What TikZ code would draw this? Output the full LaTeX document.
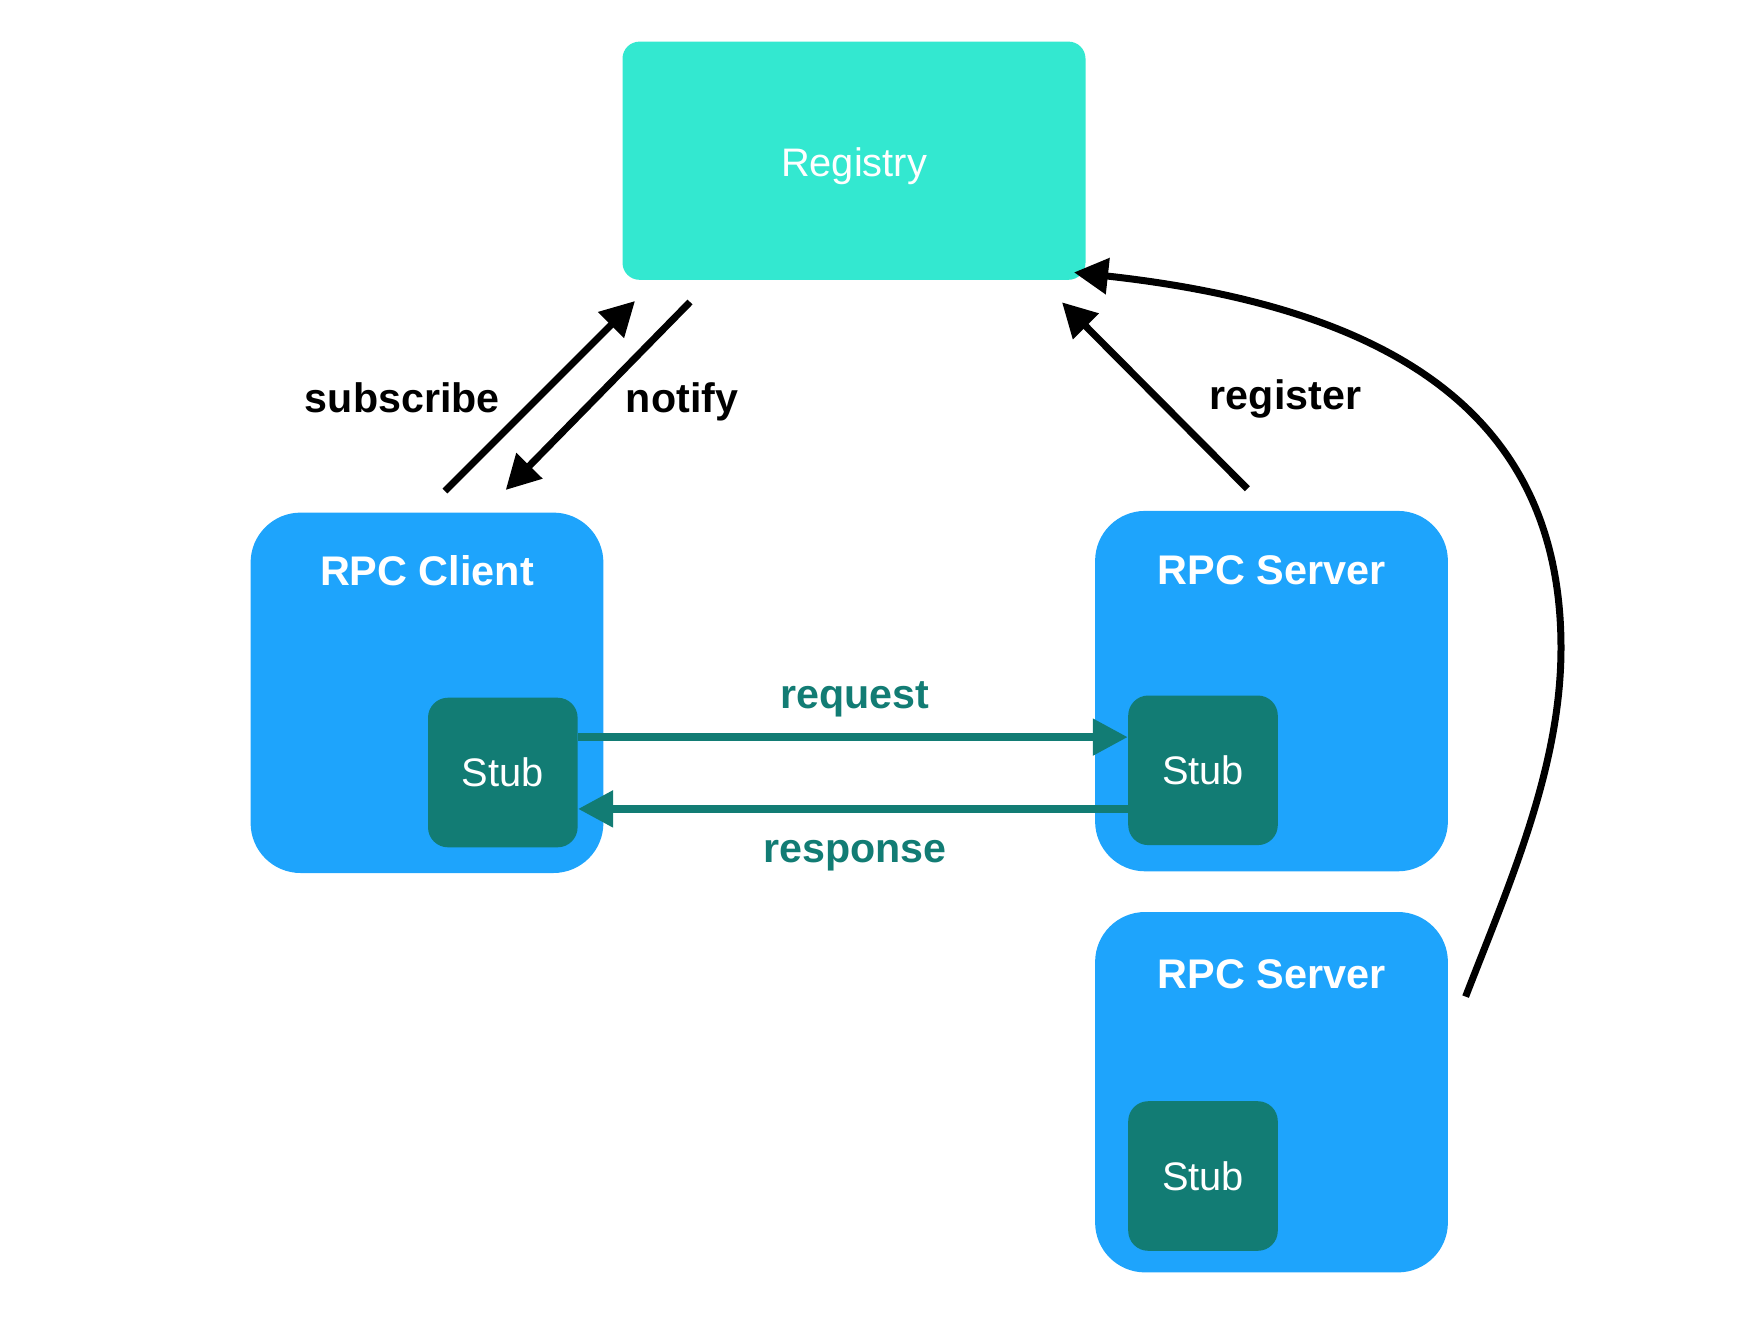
\documentclass[tikz,border=0pt]{standalone}
\usepackage{fontspec}
\setmainfont{Liberation Sans}
\usetikzlibrary{arrows.meta,calc}
\definecolor{regcol}{HTML}{33E8D0}
\definecolor{boxblue}{HTML}{1EA4FC}
\definecolor{stubteal}{HTML}{127C74}

\begin{document}
\begin{tikzpicture}[x=0.5pt,y=-0.5pt,
  hostbox/.style={fill=boxblue, rounded corners=25pt, minimum width=176.4pt,
    minimum height=180.2pt, inner sep=0pt},
  regbox/.style={fill=regcol, rounded corners=8.5pt, minimum width=231.5pt,
    minimum height=119.1pt, inner sep=0pt},
  regtext/.style={text=white, anchor=base, inner sep=0pt,
    font=\fontsize{19.9}{24}\selectfont},
  stubbox/.style={fill=stubteal, rounded corners=10pt, minimum width=74.8pt,
    minimum height=74.8pt, inner sep=0pt, text=white,
    font=\fontsize{19.9}{24}\selectfont},
  hosttitle/.style={text=white, anchor=base, inner sep=0pt,
    font=\bfseries\fontsize{20.7}{24}\selectfont},
  lbl/.style={anchor=base, inner sep=0pt, font=\bfseries\fontsize{20.6}{24}\selectfont},
  blackarrow/.style={line width=3.5pt, -{Triangle[length=17pt,width=17.5pt]}},
  tealarrow/.style={line width=4pt, draw=stubteal, -{Triangle[length=17.5pt,width=17.5pt]}},
]
\useasboundingbox (0,0) rectangle (1762,1318);

% registry
\node[regbox] (registry) at (854,160.7) {};
\node[regtext] (regname) at (854,176) {Registry};

% client and servers
\node[hostbox] (client) at (427,692.8) {};
\node[hosttitle] (clienttitle) at (427,585.5) {RPC Client};
\node[stubbox] (cstub) at (502.8,772.5) {Stub};

\node[hostbox] (server) at (1271.5,691.1) {};
\node[hosttitle] (servertitle) at (1271.5,584.3) {RPC Server};
\node[stubbox] (sstub) at (1203,770.3) {Stub};

\node[hostbox] (servertwo) at (1271.5,1092.2) {};
\node[hosttitle] (servertwotitle) at (1271.5,988.9) {RPC Server};
\node[stubbox] (sstubtwo) at (1203,1176) {Stub};

% connector ends
\coordinate (subA) at (445,491);
\coordinate (subB) at (635,301);
\coordinate (notA) at (690,302);
\coordinate (notB) at (505.7,490);
\coordinate (regA) at (1247.4,488.8);
\coordinate (regB) at (1062,302.3);
\coordinate (curA) at (1465.6,996.6);
\coordinate (curM) at (1561,648);
\coordinate (curB) at (1074,272.4);

% registry traffic
\draw[blackarrow] (subA) -- (subB);
\draw[blackarrow] (notA) -- (notB);
\draw[blackarrow] (regA) -- (regB);
\draw[blackarrow] (curA) .. controls (1508.8,885) and (1561,768) .. (curM)
  .. controls (1561,428) and (1412,309.5) .. (curB);

\node[lbl] (sublbl) at (402.3,412.4) {subscribe};
\node[lbl] (notlbl) at (682,412.4) {notify};
\node[lbl] (reglbl) at (1285.5,409) {register};

% call path between stubs
\draw[tealarrow] ([yshift=17.7pt]cstub.east) -- ([yshift=17.7pt]cstub.east -| sstub.west);
\draw[tealarrow] ([yshift=-18.2pt]cstub.east -| sstub.west) -- ([yshift=-18.2pt]cstub.east);

\node[lbl, text=stubteal] (reqlbl) at (855,708) {request};
\node[lbl, text=stubteal] (reslbl) at (855,862) {response};
\end{tikzpicture}
\end{document}
